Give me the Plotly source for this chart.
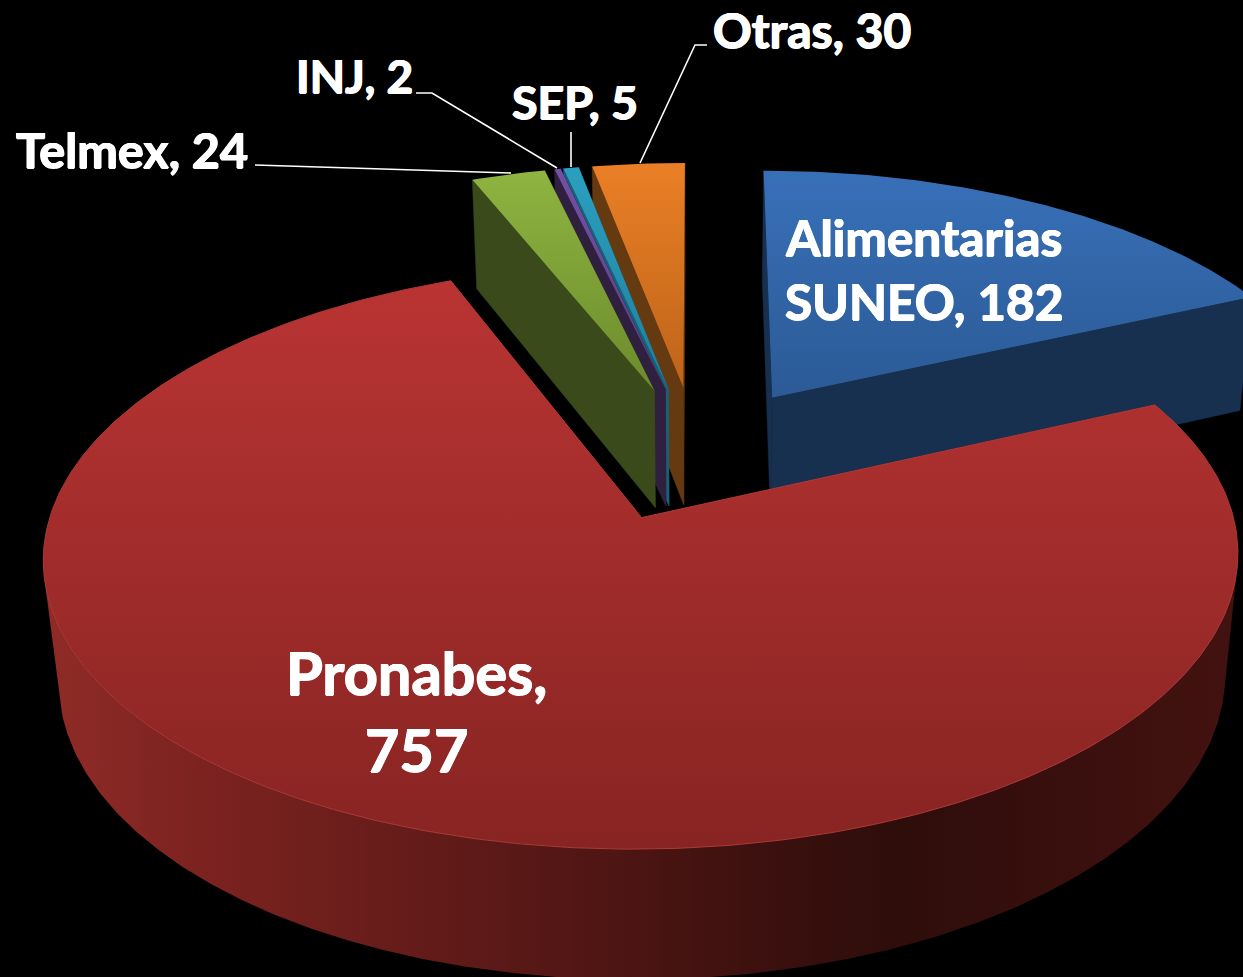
import numpy as np
import plotly.graph_objects as go

# ---- data ----
names = ["Alimentarias<br>SUNEO", "Pronabes,<br>", "Telmex", "INJ", "SEP", "Otras"]
values = [182, 757, 24, 2, 5, 30]
top_colors = [
    ["#3870b8", "#2b5a96"],
    ["#b93433", "#872422"],
    ["#8fb441", "#6b8b2b"],
    ["#7450a6", "#5a3e85"],
    ["#2b9fc0", "#1f7f9a"],
    ["#ea7f26", "#bd6419"],
]
wall_colors = ["#17304f", "#651b19", "#3a4a1a", "#30203f", "#17627a", "#663a10"]
red_wall_stops = [
    [0.0, "#8f2b27"], [0.12, "#7d2320"], [0.35, "#5f1a18"],
    [0.62, "#3a100e"], [0.72, "#2e0d0b"], [0.9, "#3c100e"], [1.0, "#421210"],
]
draw_order = [0, 5, 4, 3, 2, 1]

# ---- projection of the exploded pie ----
X0, Y0, A, B, K = 696.5, 453.0, 574.0, 270.0, 0.13
DEPTH, M = 121.7, 0.023
EXPLODE = 0.25


def project(x, y, z=0.0):
    w = 1 + K * y + M * z
    return X0 + A * x / w, Y0 + (-B * y + DEPTH * z) / w


total = sum(values)
ang = np.cumsum([0] + values) / total * 2 * np.pi


def slice_geom(i):
    a0, a1 = ang[i], ang[i + 1]
    mid = (a0 + a1) / 2
    cx, cy = EXPLODE * np.sin(mid), EXPLODE * np.cos(mid)
    t = np.linspace(a0, a1, max(int((a1 - a0) * 90), 8))
    return cx, cy, cx + np.sin(t), cy + np.cos(t)


fig = go.Figure()


def poly(xs, ys, color=None, grad=None, line=None):
    kw = dict(x=list(xs) + [xs[0]], y=list(ys) + [ys[0]], mode="lines", fill="toself",
              hoverinfo="skip", showlegend=False)
    kw["line"] = dict(width=line[1], color=line[0]) if line else dict(width=0.5, color=color or "rgba(0,0,0,0)")
    if grad:
        kw["fillgradient"] = grad
    else:
        kw["fillcolor"] = color
    fig.add_trace(go.Scatter(**kw))


for i in draw_order:
    cx, cy, rx, ry = slice_geom(i)
    ax_t, ay_t = project(cx, cy)
    ax_b, ay_b = project(cx, cy, 1.0)
    tx, ty = project(rx, ry)
    bx, by = project(rx, ry, 1.0)
    wall = wall_colors[i]
    # radial faces
    for k in (-1, 0):
        poly([ax_t, tx[k], bx[k], ax_b], [ay_t, ty[k], by[k], ay_b], color=wall)
    # outer face: only the part of the rim that faces the viewer
    cross = (np.diff(tx)) * (by[:-1] - ty[:-1]) - (np.diff(ty)) * (bx[:-1] - tx[:-1])
    front = np.where(cross < 0)[0]
    if len(front):
        sel = np.arange(front[0], front[-1] + 2)
        ox = np.concatenate([tx[sel], bx[sel][::-1]])
        oy = np.concatenate([ty[sel], by[sel][::-1]])
        if i == 1:
            poly(ox, oy, grad=dict(type="horizontal", start=50, stop=1230, colorscale=red_wall_stops),
                 line=("rgba(0,0,0,0)", 0))
        else:
            poly(ox, oy, color=wall)
    # top face
    px = np.concatenate([[ax_t], tx])
    py = np.concatenate([[ay_t], ty])
    c0, c1 = top_colors[i]
    edge = ("#ae3a37", 1) if i == 1 else ("rgba(0,0,0,0)", 0)
    poly(px, py, grad=dict(type="vertical", start=float(py.min()), stop=float(py.max()),
                           colorscale=[[0, c0], [1, c1]]), line=edge)

# ---- leader lines ----
leaders = [
    [(255, 165), (511, 173)],
    [(416, 93), (432, 93), (557, 168)],
    [(571, 132), (571, 167)],
    [(707, 45), (695, 45), (640, 163)],
]
for pts in leaders:
    fig.add_trace(go.Scatter(x=[p[0] for p in pts], y=[p[1] for p in pts], mode="lines",
                             line=dict(color="white", width=1.6), hoverinfo="skip", showlegend=False))

# ---- labels ----
FONT = "Lato"
SHADOW = "0.7px 0 0 white, -0.7px 0 0 white, 0 0.5px 0 white, 0 -0.5px 0 white"
label_pos = [(924, 269, 49.5), (416, 710, 59.5), (131.5, 149, 48.5), (354, 75, 46), (575, 101, 46.5), (812, 29, 48)]
for i, (x, y, s) in enumerate(label_pos):
    if i == 1:
        text = f"{names[i]}{values[i]}"
    else:
        text = f"{names[i]}, {values[i]}"
    fig.add_annotation(x=x, y=y, text=f"<b>{text}</b>", showarrow=False, xanchor="center", yanchor="middle",
                       font=dict(family=FONT, size=s, color="white", shadow=SHADOW))

fig.update_layout(
    width=1243, height=977, margin=dict(l=0, r=0, t=0, b=0),
    paper_bgcolor="black", plot_bgcolor="black", showlegend=False,
    xaxis=dict(range=[0, 1243], visible=False, fixedrange=True),
    yaxis=dict(range=[977, 0], visible=False, fixedrange=True),
)
fig.write_html("out.html", config=dict(displayModeBar=False),
               post_script="document.body.style.margin='0';document.body.style.background='black';"
                           "document.documentElement.style.overflow='hidden';")
